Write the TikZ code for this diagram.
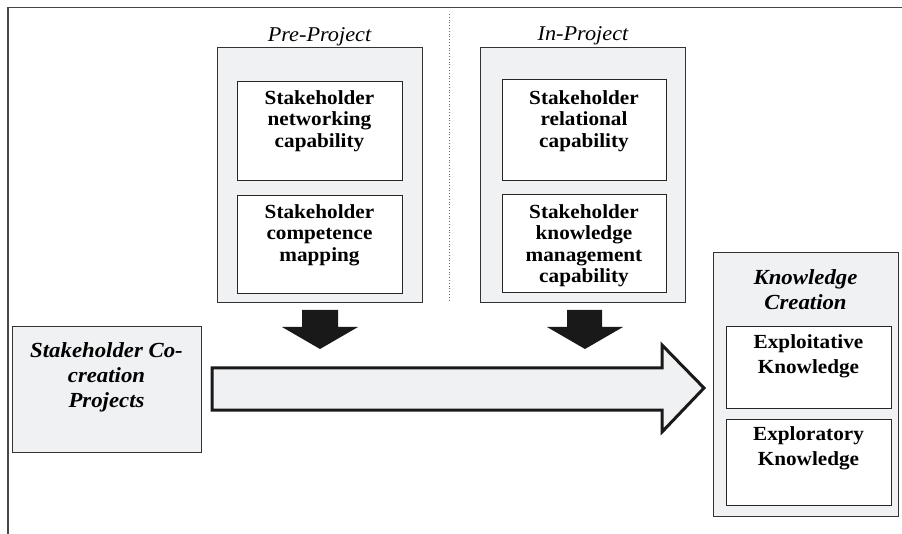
\documentclass[tikz,border=0pt]{standalone}
\usepackage{fontspec}
\setmainfont{Liberation Serif}[FakeStretch=1.06]
\usetikzlibrary{fit}
\definecolor{boxgray}{RGB}{240,241,243}
\definecolor{framegray}{RGB}{70,70,70}
\tikzset{
  obox/.style={draw=black!80, line width=1pt, fill=boxgray, inner sep=0pt},
  ibox/.style={draw=black!85, line width=1pt, fill=white, inner sep=0pt},
  btxt/.style={inner sep=0pt, align=center, font=\fontsize{20}{21.5}\selectfont\bfseries},
  ktxt/.style={inner sep=0pt, align=center, font=\fontsize{20}{25}\selectfont\bfseries},
  ttxt/.style={inner sep=0pt, align=center, font=\fontsize{21.5}{25}\selectfont\bfseries\itshape},
  ltxt/.style={inner sep=0pt, font=\fontsize{21}{22}\selectfont\itshape},
  downarrow/.style={fill=black!90, draw=none},
  bigarrow/.style={fill=boxgray, draw=black!90, line width=3pt, line join=miter},
  framelines/.style={draw=framegray, line width=1.5pt},
  divider/.style={draw=black!60, line width=0.8pt, dotted}
}
\begin{document}
\begin{tikzpicture}[x=1pt,y=-1pt]
\useasboundingbox (0,0) rectangle (902,534);
% frame
\coordinate (fTR) at (902,7.5);
\coordinate (fTL) at (8,7.5);
\coordinate (fBL) at (8,534);
\draw[framelines] (fTR) -- (fTL) -- (fBL);
% divider
\coordinate (dT) at (449,14);
\coordinate (dB) at (449,302);
\draw[divider] (dT) -- (dB);
% labels
\node[ltxt, anchor=base] (preL) at (319.5,42) {Pre-Project};
\node[ltxt, anchor=base] (inL) at (583,41) {In-Project};
% pre-project
\node[obox, fit={(217,48) (422,303)}] (preO) {};
\node[ibox, fit={(237,82) (402,181)}] (preA) {};
\node[ibox, fit={(237,196) (402,294)}] (preB) {};
\node[btxt, anchor=north] (preAt) at (319.5,90) {Stakeholder\\networking\\capability};
\node[btxt, anchor=north] (preBt) at (319.5,204) {Stakeholder\\competence\\mapping};
% in-project
\node[obox, fit={(480,48) (685,303)}] (inO) {};
\node[ibox, fit={(502,80) (666,181)}] (inA) {};
\node[ibox, fit={(502,195) (666,293)}] (inB) {};
\node[btxt, anchor=north] (inAt) at (584,90) {Stakeholder\\relational\\capability};
\node[btxt, anchor=north] (inBt) at (584,204) {Stakeholder\\knowledge\\management\\capability};
% left box
\node[obox, fit={(12,327) (201,452)}] (co) {};
\node[ttxt, anchor=north] (cot) at (106.5,342) {Stakeholder Co-\\creation\\Projects};
% knowledge creation
\node[obox, fit={(713,253) (898,516)}] (kc) {};
\node[ttxt, anchor=north] (kct) at (805.5,269) {Knowledge\\Creation};
\node[ibox, fit={(726,327) (891,408)}] (kA) {};
\node[ibox, fit={(726,419) (891,505)}] (kB) {};
\node[ktxt, anchor=north] (kAt) at (808.5,334) {Exploitative\\Knowledge};
\node[ktxt, anchor=north] (kBt) at (808.5,426) {Exploratory\\Knowledge};
% down arrows
\fill[downarrow] (302,310) -- (338,310) -- (338,327) -- (358,327) -- (320,349) -- (282,327) -- (302,327) -- cycle;
\fill[downarrow] (567,310) -- (602,310) -- (602,327) -- (623,327) -- (585,349) -- (547,327) -- (567,327) -- cycle;
% big arrow
\draw[bigarrow] (212,368) -- (662,368) -- (662,345) -- (704,388) -- (662,432) -- (662,410) -- (212,410) -- cycle;
\end{tikzpicture}
\end{document}
